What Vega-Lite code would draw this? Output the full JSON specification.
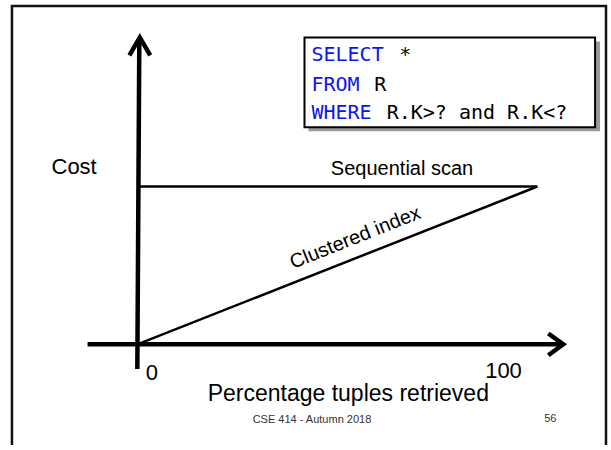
{
  "$schema": "https://vega.github.io/schema/vega-lite/v6.json",
  "autosize": {"type": "fit", "contains": "padding"},
  "width": 611,
  "height": 450,
  "padding": 0,
  "background": "white",
  "config": {"view": {"stroke": null}},
  "datasets": {
    "frame": [
      {"part": "border", "o": 1, "x": -31.34, "y": -63.75},
      {"part": "border", "o": 2, "x": -31.34, "y": 214.4},
      {"part": "border", "o": 3, "x": 117.16, "y": 214.4},
      {"part": "border", "o": 4, "x": 117.16, "y": -63.75}
    ],
    "axes": [
      {"part": "yaxis", "o": 1, "x": 0.0, "y": -15.6},
      {"part": "yaxis", "o": 2, "x": 0.5, "y": 194.4},
      {"part": "yhead", "o": 1, "x": -1.99, "y": 183.1},
      {"part": "yhead", "o": 2, "x": 0.62, "y": 194.4},
      {"part": "yhead", "o": 3, "x": 3.23, "y": 183.1},
      {"part": "xaxis", "o": 1, "x": -12.44, "y": 0},
      {"part": "xaxis", "o": 2, "x": 106.2, "y": 0},
      {"part": "xhead", "o": 1, "x": 102.74, "y": 6.875},
      {"part": "xhead", "o": 2, "x": 106.47, "y": 0},
      {"part": "xhead", "o": 3, "x": 102.74, "y": -6.875}
    ],
    "series": [
      {"method": "Sequential scan", "pct": 0, "cost": 100},
      {"method": "Sequential scan", "pct": 100, "cost": 100},
      {"method": "Clustered index", "pct": 0, "cost": 0},
      {"method": "Clustered index", "pct": 100, "cost": 100}
    ],
    "box": [{"x": 41.79, "x2": 114.43, "y": 194.4, "y2": 137.5}],
    "shadow": [{"x": 42.79, "x2": 115.67, "y": 191.9, "y2": 135.0}],
    "sqlKeywords": [
      {"x": 43.53, "y": 179.4, "t": "SELECT"},
      {"x": 43.53, "y": 160.6, "t": "FROM"},
      {"x": 43.53, "y": 142.5, "t": "WHERE"}
    ],
    "sqlRest": [
      {"x": 65.47, "y": 179.4, "t": "*"},
      {"x": 59.2, "y": 160.6, "t": "R"},
      {"x": 62.34, "y": 142.5, "t": "R.K>? and R.K<?"}
    ],
    "bigLabels": [
      {"x": -15.8, "y": 108.1, "t": "Cost"},
      {"x": 3.61, "y": -22.5, "t": "0"},
      {"x": 91.54, "y": -21.25, "t": "100"}
    ],
    "midLabels": [
      {"x": 66.17, "y": 107.5, "t": "Sequential scan"}
    ],
    "rotLabels": [
      {"x": 54.48, "y": 67.5, "t": "Clustered index"}
    ],
    "titleLabels": [
      {"x": 52.74, "y": -35.6, "t": "Percentage tuples retrieved"}
    ],
    "footer": [
      {"x": 43.66, "y": -50, "t": "CSE 414 - Autumn 2018"},
      {"x": 103.23, "y": -49.4, "t": "56"}
    ]
  },
  "layer": [
    {
      "data": {"name": "frame"},
      "mark": {"type": "line", "stroke": "#111111", "strokeWidth": 2.5, "strokeJoin": "miter", "clip": false},
      "encoding": {
        "x": {"field": "x", "type": "quantitative", "scale": {"domain": [-34.33, 117.66], "nice": false, "zero": false}, "axis": null},
        "y": {"field": "y", "type": "quantitative", "scale": {"domain": [-63.75, 217.5], "nice": false, "zero": false}, "axis": null},
        "detail": {"field": "part"},
        "order": {"field": "o"}
      }
    },
    {
      "data": {"name": "series"},
      "mark": {"type": "line", "stroke": "black", "strokeWidth": 2.5},
      "encoding": {
        "x": {"field": "pct", "type": "quantitative"},
        "y": {"field": "cost", "type": "quantitative"},
        "detail": {"field": "method"}
      }
    },
    {
      "data": {"name": "axes"},
      "mark": {"type": "line", "stroke": "black", "strokeWidth": 4.5, "strokeJoin": "miter", "strokeCap": "butt"},
      "encoding": {
        "x": {"field": "x", "type": "quantitative"},
        "y": {"field": "y", "type": "quantitative"},
        "detail": {"field": "part"},
        "order": {"field": "o"}
      }
    },
    {
      "data": {"name": "shadow"},
      "mark": {"type": "rect", "fill": "#9a9a9a"},
      "encoding": {
        "x": {"field": "x", "type": "quantitative"},
        "x2": {"field": "x2"},
        "y": {"field": "y", "type": "quantitative"},
        "y2": {"field": "y2"}
      }
    },
    {
      "data": {"name": "box"},
      "mark": {"type": "rect", "fill": "white", "stroke": "black", "strokeWidth": 2},
      "encoding": {
        "x": {"field": "x", "type": "quantitative"},
        "x2": {"field": "x2"},
        "y": {"field": "y", "type": "quantitative"},
        "y2": {"field": "y2"}
      }
    },
    {
      "data": {"name": "sqlKeywords"},
      "mark": {"type": "text", "font": "DejaVu Sans Mono", "fontSize": 20, "align": "left", "baseline": "alphabetic", "color": "#0a14f0"},
      "encoding": {
        "x": {"field": "x", "type": "quantitative"},
        "y": {"field": "y", "type": "quantitative"},
        "text": {"field": "t"}
      }
    },
    {
      "data": {"name": "sqlRest"},
      "mark": {"type": "text", "font": "DejaVu Sans Mono", "fontSize": 20, "align": "left", "baseline": "alphabetic", "color": "black"},
      "encoding": {
        "x": {"field": "x", "type": "quantitative"},
        "y": {"field": "y", "type": "quantitative"},
        "text": {"field": "t"}
      }
    },
    {
      "data": {"name": "bigLabels"},
      "mark": {"type": "text", "font": "Liberation Sans", "fontSize": 22, "align": "center", "baseline": "alphabetic", "color": "black"},
      "encoding": {
        "x": {"field": "x", "type": "quantitative"},
        "y": {"field": "y", "type": "quantitative"},
        "text": {"field": "t"}
      }
    },
    {
      "data": {"name": "midLabels"},
      "mark": {"type": "text", "font": "Liberation Sans", "fontSize": 20, "align": "center", "baseline": "alphabetic", "color": "black"},
      "encoding": {
        "x": {"field": "x", "type": "quantitative"},
        "y": {"field": "y", "type": "quantitative"},
        "text": {"field": "t"}
      }
    },
    {
      "data": {"name": "rotLabels"},
      "mark": {"type": "text", "font": "Liberation Sans", "fontSize": 20, "align": "center", "baseline": "middle", "angle": -21.7, "color": "black"},
      "encoding": {
        "x": {"field": "x", "type": "quantitative"},
        "y": {"field": "y", "type": "quantitative"},
        "text": {"field": "t"}
      }
    },
    {
      "data": {"name": "titleLabels"},
      "mark": {"type": "text", "font": "Liberation Sans", "fontSize": 23, "align": "center", "baseline": "alphabetic", "color": "black"},
      "encoding": {
        "x": {"field": "x", "type": "quantitative"},
        "y": {"field": "y", "type": "quantitative"},
        "text": {"field": "t"}
      }
    },
    {
      "data": {"name": "footer"},
      "mark": {"type": "text", "font": "Liberation Sans", "fontSize": 11, "align": "center", "baseline": "alphabetic", "color": "#333333"},
      "encoding": {
        "x": {"field": "x", "type": "quantitative"},
        "y": {"field": "y", "type": "quantitative"},
        "text": {"field": "t"}
      }
    }
  ]
}
